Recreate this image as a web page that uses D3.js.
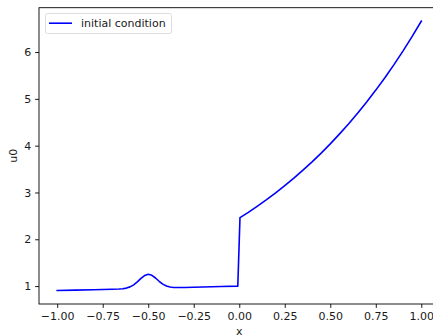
<!DOCTYPE html>
<html>
<head>
<meta charset="utf-8">
<script src="https://cdn.jsdelivr.net/npm/d3@7"></script>
<style>
  body { margin: 0; background: #fff; }
  svg { display: block; }
  text { font-family: "DejaVu Sans", sans-serif; fill: #1a1a1a; }
</style>
</head>
<body>
<svg id="chart" width="433" height="336"></svg>
<script>
// Data
const xValues = [-1, -0.9, -0.8, -0.7, -0.66, -0.64, -0.62, -0.6, -0.58, -0.56, -0.54, -0.52, -0.5,
  -0.48, -0.46, -0.44, -0.42, -0.4, -0.38, -0.36, -0.34, -0.3, -0.2, -0.1, -0.008,
  0.004, 0.05, 0.1, 0.15, 0.2, 0.25, 0.3, 0.35, 0.4, 0.45, 0.5, 0.55, 0.6, 0.65, 0.7, 0.75,
  0.8, 0.85, 0.9, 0.95, 1.0];
const u0Values = [0.905, 0.914, 0.923, 0.932, 0.938, 0.944, 0.957, 0.983, 1.027, 1.091, 1.165, 1.226, 1.251,
  1.230, 1.173, 1.103, 1.042, 1.002, 0.980, 0.971, 0.969, 0.970, 0.980, 0.990, 0.999,
  2.462, 2.576, 2.708, 2.846, 2.992, 3.146, 3.307, 3.477, 3.655, 3.842, 4.039, 4.247, 4.464, 4.693, 4.934, 5.187,
  5.452, 5.732, 6.026, 6.335, 6.660];
const xTicks = [-1.0, -0.75, -0.5, -0.25, 0.0, 0.25, 0.5, 0.75, 1.0];
const yTicks = [1, 2, 3, 4, 5, 6];
const seriesName = "initial condition";

const svg = d3.select("#chart");
const mLeft = 39, mRight = 439.5, mTop = 7.7, mBottom = 304;
const fontPx = "11px";

const xMin = d3.min(xValues), xMax = d3.max(xValues);
const yMin = d3.min(u0Values), yMax = d3.max(u0Values);
const xPad = (xMax - xMin) * 0.05, yPad = (yMax - yMin) * 0.05;

const x = d3.scaleLinear().domain([xMin - xPad, xMax + xPad]).range([mLeft, mRight]);
const y = d3.scaleLinear().domain([yMin - yPad, yMax + yPad]).range([mBottom, mTop]);

const fmtX = d3.format(".2f");
const minusFmt = v => fmtX(v).replace("-", "\u2212");

const xAxis = svg.append("g")
  .attr("transform", `translate(0,${mBottom})`)
  .call(d3.axisBottom(x).tickValues(xTicks).tickFormat(minusFmt).tickSize(3.9).tickPadding(3.9));
const yAxis = svg.append("g")
  .attr("transform", `translate(${mLeft},0)`)
  .call(d3.axisLeft(y).tickValues(yTicks).tickFormat(d3.format("d")).tickSize(3.9).tickPadding(3.9));

[xAxis, yAxis].forEach(g => {
  g.select(".domain").remove();
  g.selectAll(".tick line").attr("stroke", "#000").attr("stroke-width", 0.9);
  g.selectAll(".tick text").attr("font-size", fontPx).attr("fill", "#1a1a1a")
    .style("font-family", "'DejaVu Sans', sans-serif");
});

// spines
svg.append("rect")
  .attr("x", mLeft).attr("y", mTop)
  .attr("width", mRight - mLeft).attr("height", mBottom - mTop)
  .attr("fill", "none").attr("stroke", "#000").attr("stroke-width", 0.9);

// line
const pts = xValues.map((v, i) => [v, u0Values[i]]);
svg.append("path")
  .datum(pts)
  .attr("fill", "none")
  .attr("stroke", "#0000ff")
  .attr("stroke-width", 1.6)
  .attr("stroke-linejoin", "round")
  .attr("stroke-linecap", "square")
  .attr("d", d3.line().x(d => x(d[0])).y(d => y(d[1])).curve(d3.curveLinear));

// axis labels
svg.append("text")
  .attr("x", x(0)).attr("y", 334.5)
  .attr("text-anchor", "middle").attr("font-size", fontPx).text("x");
svg.append("text")
  .attr("transform", `translate(17,${(mTop + mBottom) / 2}) rotate(-90)`)
  .attr("text-anchor", "middle").attr("font-size", fontPx).text("u0");

// legend
const lg = svg.append("g");
lg.append("rect")
  .attr("x", 45.5).attr("y", 13.5).attr("width", 126).attr("height", 20)
  .attr("rx", 2).attr("fill", "#fff").attr("fill-opacity", 0.8)
  .attr("stroke", "#d9d9d9").attr("stroke-width", 0.9);
lg.append("line")
  .attr("x1", 49).attr("x2", 72).attr("y1", 23.2).attr("y2", 23.2)
  .attr("stroke", "#0000ff").attr("stroke-width", 1.6);
lg.append("text")
  .attr("x", 81).attr("y", 27.2).attr("font-size", fontPx).text(seriesName);
</script>
</body>
</html>
